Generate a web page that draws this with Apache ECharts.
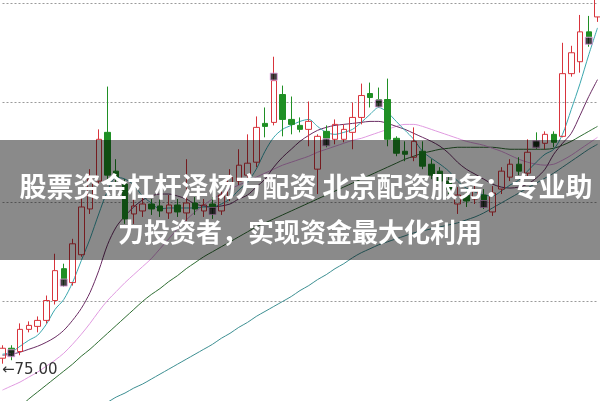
<!DOCTYPE html>
<html><head><meta charset="utf-8">
<script src="https://cdn.jsdelivr.net/npm/echarts@6/dist/echarts.min.js"></script>
<style>html,body{margin:0;padding:0;background:#fff}#c{width:600px;height:401px}</style>
</head><body><div id="c"></div>
<script>
// [open, close, low, high]
const candles = [
[75.44,76.24,75.00,76.48],[76.24,75.92,75.28,76.48],[75.98,77.76,75.68,78.24],[77.76,78.08,77.52,78.40],
[78.00,78.48,77.52,78.80],[78.48,80.08,78.24,80.48],[80.08,82.48,79.76,83.84],[82.64,81.76,81.20,83.04],
[81.52,84.64,81.28,85.04],[83.76,87.60,83.60,88.40],[87.44,89.84,87.04,90.64],[89.68,93.04,89.36,93.84],
[93.60,90.16,89.84,97.28],[90.48,90.00,89.04,91.44],[89.44,86.64,86.24,89.84],[87.04,87.68,86.24,88.64],
[87.28,87.84,86.80,88.40],[87.84,87.44,86.96,88.24],[87.68,87.28,86.80,88.24],[87.12,87.76,86.64,88.56],
[87.76,87.20,86.80,88.24],[87.12,87.92,86.48,91.44],[87.92,87.44,86.96,88.40],[87.28,87.76,86.80,88.24],
[87.84,87.52,86.64,88.40],[87.28,88.56,86.96,89.04],[88.40,90.00,88.08,90.64],[89.68,90.96,89.36,92.24],
[90.16,91.12,89.68,93.44],[91.20,94.00,90.80,94.88],[94.32,94.08,93.20,95.60],[94.40,97.76,94.16,99.68],
[96.64,94.64,93.28,97.36],[94.64,94.24,93.44,96.48],[94.16,93.84,93.60,94.80],[93.84,94.48,92.48,96.08],
[90.64,93.28,88.64,93.44],[93.68,93.12,92.40,94.16],[93.04,94.24,92.64,94.64],[93.04,93.84,92.80,94.24],
[93.60,94.80,92.24,96.00],[94.80,96.56,94.24,97.52],[96.72,96.40,95.60,97.60],[96.24,96.00,95.60,97.20],
[96.24,93.04,92.48,97.92],[93.12,91.92,91.68,93.28],[92.08,91.84,91.28,92.88],[91.60,92.88,91.28,94.00],
[92.08,90.88,90.64,92.88],[91.04,90.16,89.84,91.44],[90.48,89.68,89.36,90.80],[89.68,89.04,88.64,90.00],
[87.84,88.56,87.04,89.20],[88.56,88.08,87.60,89.04],[88.24,88.88,87.84,89.36],[88.56,88.16,87.44,89.04],
[87.20,88.72,86.88,89.28],[89.04,90.48,88.64,90.80],[90.00,91.04,89.68,91.44],[91.04,90.48,90.16,91.60],
[90.32,92.00,90.00,93.04],[92.80,92.56,92.24,93.60],[92.72,93.44,92.24,93.68],[93.44,92.80,92.40,93.68],
[93.28,98.32,93.20,100.80],[98.32,100.00,98.08,100.56],[99.28,101.68,98.40,103.04],[101.68,101.28,100.48,102.96],
[102.88,104.64,102.48,105.04]
];
const ma5 = [75.76,75.92,76.40,76.88,77.28,78.16,79.36,80.16,81.52,83.28,85.04,87.04,88.88,90.00,89.84,89.36,88.48,87.92,87.44,87.52,87.52,87.52,87.52,87.60,87.60,87.84,88.24,88.96,89.60,90.64,92.08,93.20,93.84,94.16,94.48,94.64,94.08,93.60,93.44,93.60,93.84,94.40,95.04,95.60,95.20,94.48,93.76,93.04,92.08,91.52,91.04,90.48,89.68,89.12,88.80,88.56,88.48,88.88,89.36,89.76,90.48,91.20,91.84,92.24,93.44,95.44,97.52,99.84,102.00];
const ma10 = [75.68,75.76,75.92,76.16,76.40,76.72,77.12,77.68,78.48,79.44,80.72,82.48,84.56,86.00,86.88,87.60,88.16,88.48,88.64,88.64,88.48,88.24,87.84,87.68,87.60,87.68,87.84,88.24,88.56,89.20,89.84,90.80,91.60,92.24,92.88,93.36,93.76,94.00,94.16,94.24,94.32,94.40,94.48,94.48,94.32,94.08,93.84,93.52,93.20,92.88,92.48,91.92,91.20,90.64,90.24,89.84,89.44,89.20,89.12,89.20,89.44,89.92,90.64,91.84,92.72,93.52,94.96,96.48,97.84];
const ma20 = [72.88,73.20,73.52,73.92,74.32,74.80,75.28,75.84,76.56,77.36,78.24,79.20,80.08,80.80,81.52,82.16,82.80,83.44,84.24,85.04,85.84,86.56,87.20,87.76,88.24,88.64,89.04,89.36,89.68,90.00,90.32,90.64,90.96,91.20,91.44,91.68,92.00,92.24,92.48,92.72,92.96,93.12,93.36,93.60,93.84,94.08,94.24,94.24,94.08,93.84,93.60,93.36,93.12,92.88,92.72,92.56,92.32,92.08,91.76,91.44,91.20,91.04,90.96,91.04,91.36,91.76,92.24,92.72,93.20];
const ma30 = [70.24,70.88,71.52,72.16,72.72,73.28,73.84,74.40,74.96,75.60,76.16,76.80,77.44,78.08,78.72,79.36,80.00,80.56,81.04,81.60,82.08,82.64,83.12,83.60,84.00,84.40,84.80,85.20,85.60,86.00,86.32,86.64,86.96,87.28,87.60,87.92,88.24,88.56,88.88,89.20,89.52,89.84,90.16,90.48,90.80,91.12,91.44,91.68,91.92,92.08,92.24,92.32,92.40,92.40,92.40,92.40,92.40,92.32,92.24,92.24,92.24,92.24,92.24,92.32,92.56,92.88,93.28,93.68,94.08];
const ma60 = [66.64,67.12,67.60,68.08,68.56,69.04,69.52,70.00,70.48,70.96,71.36,71.76,71.92,72.32,72.64,73.04,73.36,73.76,74.16,74.56,74.96,75.36,75.76,76.16,76.56,77.04,77.44,77.92,78.32,78.80,79.20,79.60,80.00,80.40,80.88,81.28,81.76,82.16,82.64,83.04,83.52,83.92,84.24,84.56,84.80,85.04,85.28,85.52,85.68,85.84,86.00,86.16,86.32,86.56,86.80,87.12,87.52,87.92,88.32,88.72,89.12,89.52,89.92,90.32,90.80,91.28,91.76,92.24,92.64];
const markerIdx = [1,7,24,31,37,43,55,61,67];
const markerVal = [75.84,81.52,87.28,98.08,92.80,95.92,87.84,92.64,100.96];
const lowLabel = 75.00;
const titleLines = ['股票资金杠杆泽杨方配资 北京配资服务：专业助','力投资者，实现资金最大化利用'];
const days = candles.map((_, i) => 'D' + (i + 1));

const chart = echarts.init(document.getElementById('c'), null, {renderer: 'canvas'});
const lineS = (name, data, color) => ({
  name, type: 'line', data, smooth: 0.3, symbol: 'none', clip: true,
  lineStyle: {color, width: 1}, z: 3
});
chart.setOption({
  animation: false,
  backgroundColor: '#ffffff',
  grid: {left: 2.5, right: 2.5, top: 3, bottom: -2},
  xAxis: {type: 'category', data: days, boundaryGap: false,
    axisLine: {show: false}, axisTick: {show: false}, axisLabel: {show: false}, splitLine: {show: false}},
  yAxis: {type: 'value', min: 72, max: 104, interval: 8,
    axisLine: {show: false}, axisTick: {show: false}, axisLabel: {show: false},
    splitLine: {show: true, lineStyle: {color: '#9a9a9a', type: [2, 2], width: 1}}},
  series: [
    lineS('MA60', ma60, '#3d8f92'),
    lineS('MA30', ma30, '#2f6e33'),
    lineS('MA20', ma20, '#e09ae0'),
    lineS('MA10', ma10, '#6a2c63'),
    lineS('MA5', ma5, '#3aa6ad'),
    {
      type: 'candlestick', data: candles, barWidth: 6, z: 4,
      itemStyle: {color: 'rgba(255,255,255,0)', color0: '#1f8f24', borderColor: '#d8343c', borderColor0: '#1f8f24', borderWidth: 1},
      markPoint: {
        symbol: 'circle', symbolSize: 1, itemStyle: {color: 'rgba(0,0,0,0)'},
        data: [{coord: [days[0], lowLabel], value: lowLabel}],
        label: {show: true, position: 'right', offset: [-6, 6], color: '#333', fontSize: 15,
          fontFamily: 'DejaVu Sans', formatter: p => '←' + p.value.toFixed(2)}
      }
    },
    {
      type: 'scatter', z: 5, symbol: 'rect', symbolSize: [7, 7],
      data: markerIdx.map((i, k) => [days[i], markerVal[k]]),
      itemStyle: {color: '#111', borderColor: '#e6a3e6', borderWidth: 1}
    }
  ],
  graphic: [
    {type: 'rect', z: 100, shape: {x: 0, y: 140, width: 600, height: 120}, style: {fill: 'rgba(0,0,0,0.46)'}},
    {type: 'text', z: 101, x: 306, y: 187, style: {text: titleLines[0], fill: '#fff', align: 'center', verticalAlign: 'middle', textAlign: 'center', textVerticalAlign: 'middle', font: 'bold 27px "Noto Sans CJK SC"'}},
    {type: 'text', z: 101, x: 300, y: 232, style: {text: titleLines[1], fill: '#fff', align: 'center', verticalAlign: 'middle', textAlign: 'center', textVerticalAlign: 'middle', font: 'bold 26px "Noto Sans CJK SC"'}}
  ]
});
</script></body></html>
